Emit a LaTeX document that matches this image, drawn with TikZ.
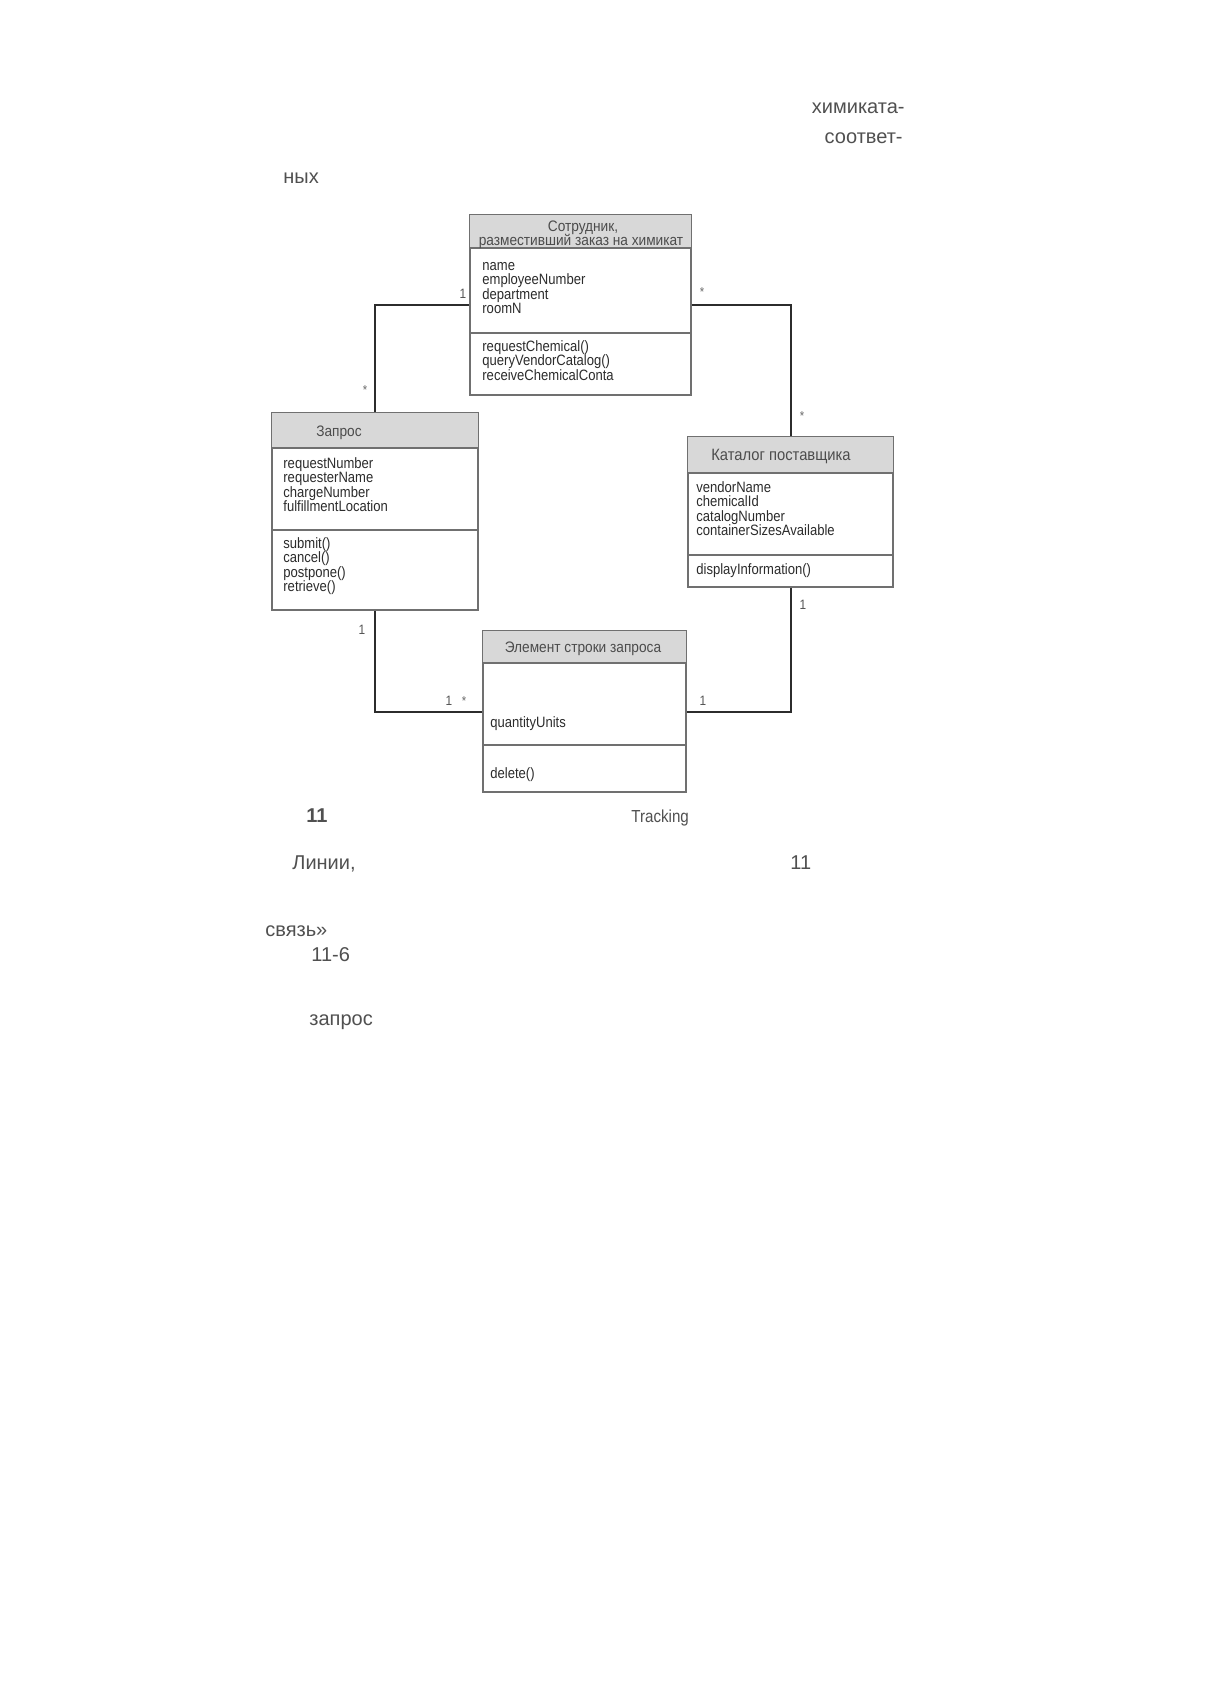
\documentclass[tikz,border=0pt]{standalone}
\usepackage{fontspec}
\setmainfont{Liberation Sans}
\newfontfamily\narf[FakeStretch=0.87]{Liberation Sans}
\newfontfamily\tnarf[FakeStretch=0.9]{Liberation Sans}
\definecolor{ink}{HTML}{2C2C2C}
\definecolor{bodyc}{HTML}{505050}
\definecolor{hdr}{HTML}{D8D8D8}
\definecolor{edgec}{HTML}{707070}
\begin{document}
\begin{tikzpicture}[x=0.5pt,y=-0.5pt,
  classbox/.style={draw=edgec, line width=0.6pt, fill=white, rectangle, inner sep=0pt},
  sepline/.style={draw=edgec, line width=0.6pt},
  ttl/.style={font=\tnarf\fontsize{7.6}{8}\selectfont, text=ink!85, inner sep=0pt, anchor=base},
  attr/.style={font=\narf\fontsize{7.5}{8}\selectfont, text=ink, inner sep=0pt, anchor=base west},
  conn/.style={draw=ink, line width=1pt},
  mult/.style={font=\narf\fontsize{6.8}{7}\selectfont, text=ink!80, inner sep=0pt, anchor=base},
  star/.style={font=\narf\fontsize{6.5}{7}\selectfont, text=ink!70, inner sep=0pt, anchor=base},
  bodytxt/.style={font=\fontsize{10}{12}\selectfont, text=bodyc, inner sep=0pt}]
\useasboundingbox (0,0) rectangle (1210,1694);
\fill[white] (0,0) rectangle (1210,1694);

% --- surrounding page text ---
\node[bodytxt, anchor=base east] (t1) at (905,113) {химиката-};
\node[bodytxt, anchor=base east] (t2) at (903,143) {соответ-};
\node[bodytxt, anchor=base west] (t3) at (283,183) {ных};
\node[bodytxt, anchor=base west, font=\bfseries\fontsize{10}{12}\selectfont] (t4) at (306,822) {11};
\node[bodytxt, anchor=base west, font=\narf\fontsize{8.7}{10}\selectfont] (t5) at (631,822) {Tracking};
\node[bodytxt, anchor=base west] (t6) at (292,869) {Линии,};
\node[bodytxt, anchor=base west] (t7) at (790,869) {11};
\node[bodytxt, anchor=base west] (t8) at (265,936) {связь»};
\node[bodytxt, anchor=base west] (t9) at (311,961) {11-6};
\node[bodytxt, anchor=base west] (t10) at (309,1025) {запрос};

% --- class boxes ---
\node[classbox, minimum width=110.5pt, minimum height=90pt] (emp) at (580.5,305) {};
\node[classbox, minimum width=103pt, minimum height=98.5pt] (req) at (375,511.5) {};
\node[classbox, minimum width=102.5pt, minimum height=75pt] (cat) at (790.5,512) {};
\node[classbox, minimum width=101.5pt, minimum height=80.5pt] (item) at (584.5,711.5) {};

% headers
\fill[hdr] (emp.north west) rectangle (emp.east |- 0,248);
\fill[hdr] (req.north west) rectangle (req.east |- 0,448);
\fill[hdr] (cat.north west) rectangle (cat.east |- 0,473);
\fill[hdr] (item.north west) rectangle (item.east |- 0,663);
\foreach \b in {emp,req,cat,item} \draw[sepline] (\b.north west) rectangle (\b.south east);

% separators
\draw[sepline] (emp.west |- 0,248) -- (emp.east |- 0,248);
\draw[sepline] (emp.west |- 0,333) -- (emp.east |- 0,333);
\draw[sepline] (req.west |- 0,448) -- (req.east |- 0,448);
\draw[sepline] (req.west |- 0,530) -- (req.east |- 0,530);
\draw[sepline] (cat.west |- 0,473) -- (cat.east |- 0,473);
\draw[sepline] (cat.west |- 0,555) -- (cat.east |- 0,555);
\draw[sepline] (item.west |- 0,663) -- (item.east |- 0,663);
\draw[sepline] (item.west |- 0,745) -- (item.east |- 0,745);

% --- texts in Сотрудник ---
\node[ttl] (empT1) at (583,231) {Сотрудник,};
\node[ttl] (empT2) at (581,245) {разместивший заказ на химикат};
\node[attr] (empA1) at (482,270) {name};
\node[attr] (empA2) at (482,284.5) {employeeNumber};
\node[attr] (empA3) at (482,299) {department};
\node[attr] (empA4) at (482,313.5) {roomN};
\node[attr] (empM1) at (482,351) {requestChemical()};
\node[attr] (empM2) at (482,365.5) {queryVendorCatalog()};
\node[attr] (empM3) at (482,380) {receiveChemicalConta};

% --- Запрос ---
\node[ttl] (reqT) at (339,436) {Запрос};
\node[attr] (reqA1) at (283,468) {requestNumber};
\node[attr] (reqA2) at (283,482.5) {requesterName};
\node[attr] (reqA3) at (283,497) {chargeNumber};
\node[attr] (reqA4) at (283,511.5) {fulfillmentLocation};
\node[attr] (reqM1) at (283,548) {submit()};
\node[attr] (reqM2) at (283,562.5) {cancel()};
\node[attr] (reqM3) at (283,577) {postpone()};
\node[attr] (reqM4) at (283,591.5) {retrieve()};

% --- Каталог поставщика ---
\node[ttl, font=\tnarf\fontsize{8.2}{9}\selectfont] (catT) at (781,460) {Каталог поставщика};
\node[attr] (catA1) at (696,492) {vendorName};
\node[attr] (catA2) at (696,506.5) {chemicalId};
\node[attr] (catA3) at (696,521) {catalogNumber};
\node[attr] (catA4) at (696,535.5) {containerSizesAvailable};
\node[attr] (catM1) at (696,574) {displayInformation()};

% --- Элемент строки запроса ---
\node[ttl] (itemT) at (583,652) {Элемент строки запроса};
\node[attr] (itemA1) at (490,727) {quantityUnits};
\node[attr] (itemM1) at (490,778) {delete()};

% --- connectors ---
\draw[conn] (emp.west) -| (req.north);
\draw[conn] (emp.east) -| (cat.north);
\draw[conn] (req.south) |- (item.west);
\draw[conn] (cat.south) |- (item.east);

% --- multiplicities ---
\node[mult] (m1) at (463,298) {1};
\node[star] (m2) at (365,394) {*};
\node[star] (m3) at (702,296) {*};
\node[star] (m4) at (802,420) {*};
\node[mult] (m5) at (362,634) {1};
\node[mult] (m6) at (803,609) {1};
\node[mult] (m7) at (449,705) {1};
\node[star] (m8) at (464,705) {*};
\node[mult] (m9) at (703,705) {1};
\end{tikzpicture}
\end{document}
